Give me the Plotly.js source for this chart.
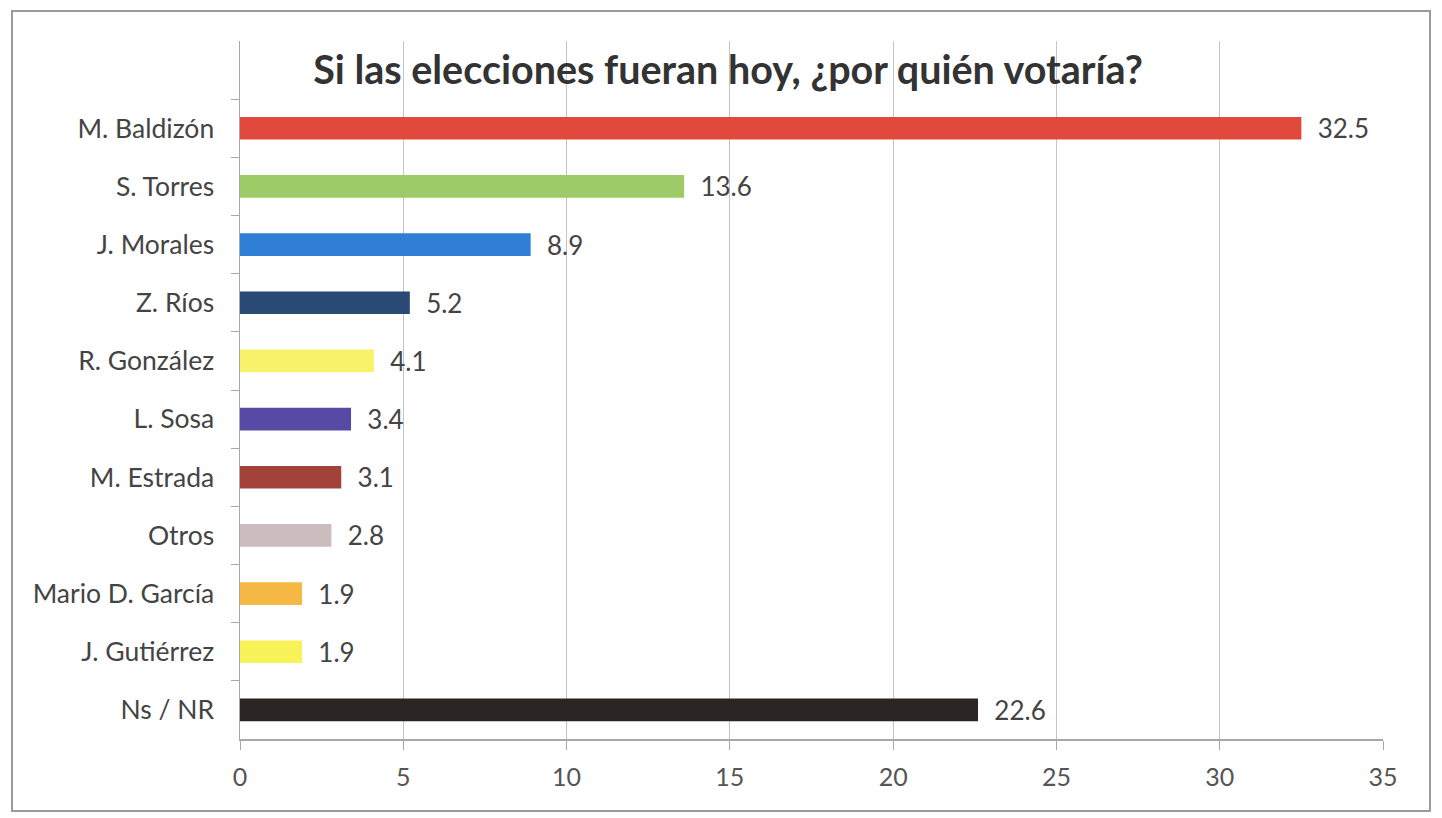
<!DOCTYPE html>
<html>
<head>
<meta charset="utf-8">
<script src="https://cdn.plot.ly/plotly-3.0.1.min.js"></script>
<style>
html, body { margin:0; padding:0; background:#fff; }
#frame { position:absolute; left:11px; top:10px; width:1420px; height:802px; border:2px solid #9a9a9a; box-sizing:border-box; }
#chart { position:absolute; left:0; top:0; width:1442px; height:818px; }
</style>
</head>
<body>
<div id="frame"></div>
<div id="chart"></div>
<script>
const categories = ["M. Baldizón", "S. Torres", "J. Morales", "Z. Ríos", "R. González", "L. Sosa", "M. Estrada", "Otros", "Mario D. García", "J. Gutiérrez", "Ns / NR"];
const values = [32.5, 13.6, 8.9, 5.2, 4.1, 3.4, 3.1, 2.8, 1.9, 1.9, 22.6];
const barColors = ["#e0493b", "#9dcb68", "#2f7fd6", "#294a74", "#f7f26a", "#574aa5", "#a2423a", "#cbbdbd", "#f5b845", "#f7f258", "#2a2523"];
const xTicks = [0, 5, 10, 15, 20, 25, 30, 35];
const titleText = "Si las elecciones fueran hoy, ¿por quién votaría?";

const trace = {
  type: "bar",
  orientation: "h",
  x: values,
  y: categories,
  width: 0.39,
  marker: { color: barColors },
  text: values.map(v => "\u00a0\u00a0" + v.toFixed(1)),
  textposition: "outside",
  constraintext: "none",
  textfont: { family: "Lato, 'Open Sans', sans-serif", size: 26, color: "#444" },
  cliponaxis: false,
  hoverinfo: "x+y"
};

const layout = {
  width: 1442,
  height: 818,
  margin: { l: 240, r: 59, t: 41, b: 79 },
  paper_bgcolor: "rgba(0,0,0,0)",
  plot_bgcolor: "rgba(0,0,0,0)",
  showlegend: false,
  title: {
    text: "<b>" + titleText + "</b>",
    font: { family: "Lato, 'Open Sans', sans-serif", size: 39.5, color: "#333" },
    x: 728/1442, xanchor: "center",
    y: 1 - 70/818, yref: "container", yanchor: "middle"
  },
  xaxis: {
    range: [0, 35],
    tickvals: xTicks,
    ticktext: xTicks.map(String),
    showgrid: true,
    gridcolor: "#c4c4c4",
    gridwidth: 1,
    zeroline: false,
    showline: true,
    linecolor: "#a8a8a8",
    linewidth: 1.5,
    ticks: "outside",
    ticklen: 9,
    tickcolor: "#a8a8a8",
    tickfont: { family: "Lato, 'Open Sans', sans-serif", size: 25, color: "#555" },
    ticklabelstandoff: 6,
    fixedrange: true
  },
  yaxis: {
    type: "category",
    categoryorder: "array",
    categoryarray: categories,
    range: [10.5, -1.5],
    tickson: "boundaries",
    ticks: "outside",
    ticklen: 8,
    tickcolor: "#a8a8a8",
    showgrid: false,
    showline: true,
    linecolor: "#a8a8a8",
    linewidth: 1.5,
    tickfont: { family: "Lato, 'Open Sans', sans-serif", size: 26.5, color: "#444" },
    ticklabelstandoff: 19,
    fixedrange: true
  },
  bargap: 0.6
};

Plotly.newPlot("chart", [trace], layout, { displayModeBar: false, staticPlot: true });
</script>
</body>
</html>
